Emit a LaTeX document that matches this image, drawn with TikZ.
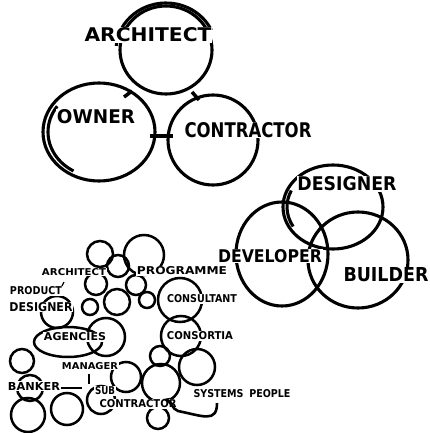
\documentclass[tikz,border=0pt]{standalone}
\usepackage{fontspec}
\setmainfont{DejaVu Sans}
\usepackage{graphicx}
\usetikzlibrary{arrows.meta}
\newcommand{\hlab}[3]{\resizebox{#1pt}{#2pt}{\bfseries #3}}
\tikzset{
  ring/.style={line width=3.1pt},
  bub/.style={line width=2.5pt},
  lab/.style={inner sep=0.8pt, fill=white},
  barmark/.style={line width=4.5pt},
}
\begin{document}
\begin{tikzpicture}[x=1pt,y=-1pt]
\useasboundingbox[fill=white] (0,0) rectangle (429,433);

% ---------- top: architect / owner / contractor ----------
\draw[ring] (166,50) ellipse [x radius=46, y radius=44];
\draw[ring] ([shift={(166,50)}]185:50 and 47) arc[start angle=185, end angle=335, x radius=50, y radius=47];
\draw[ring] (99,132) ellipse [x radius=56, y radius=49];
\draw[ring] ([shift={(99,132)}]120:51 and 45) arc[start angle=120, end angle=215, x radius=51, y radius=45];
\draw[ring] (213,140) ellipse [x radius=45, y radius=45];
\coordinate (barL) at (150,136);
\coordinate (barR) at (173,136);
\draw[barmark] (barL) -- (barR);
\coordinate (t1a) at (124,97);
\coordinate (t1b) at (132,91);
\draw[barmark,line width=3.5pt] (t1a) -- (t1b);
\coordinate (t2a) at (192,92);
\coordinate (t2b) at (199,100);
\draw[barmark,line width=3.5pt] (t2a) -- (t2b);

\node[lab] (tarch) at (148,35) {\hlab{127}{14}{ARCHITECT}};
\node[lab] (towner) at (96,117) {\hlab{78}{14}{OWNER}};
\node[lab] (tcontr) at (248,130) {\hlab{127}{15}{CONTRACTOR}};

% ---------- right: designer / developer / builder ----------
\draw[ring] (333,207) ellipse [x radius=50, y radius=42];
\draw[ring] ([shift={(333,207)}]150:46 and 39) arc[start angle=150, end angle=205, x radius=46, y radius=39];
\draw[ring] (282,254) ellipse [x radius=46, y radius=52];
\draw[ring] (358,260) ellipse [x radius=50, y radius=48];

\node[lab] (tdes) at (347,184) {\hlab{99}{14}{DESIGNER}};
\node[lab] (tdev) at (270,256) {\hlab{104}{13}{DEVELOPER}};
\node[lab] (tbld) at (386,275) {\hlab{85}{14}{BUILDER}};

% ---------- lower left: cluster ----------
\foreach \cx/\cy/\r in {
  100/254/13, 144/255/20, 118/266/11, 96/284/11, 136/285/10,
  117/302/13, 147/300/8, 180/300/22, 90/307/8, 57/312/16,
  106/337/19, 181/336/20, 160/356/10, 22/361/12,
  197/367/18, 161/383/19, 126/377/15, 101/400/14,
  67/409/16, 28/415/17, 30/388/13, 158/418/11}
  \draw[bub] (\cx,\cy) circle [radius=\r];
\draw[bub] (68,342) ellipse [x radius=34, y radius=15];

\coordinate (bkA) at (60,388);
\coordinate (bkB) at (82,388);
\draw[bub] (bkA) -- (bkB);
\coordinate (mgA) at (89,374);
\coordinate (mgB) at (89,384);
\draw[bub] (mgA) -- (mgB);

\node[lab] (carch) at (74,272) {\hlab{64}{7}{ARCHITECT}};
\node[lab] (cprod) at (36,291) {\hlab{52}{8}{PRODUCT}};
\coordinate (pkA) at (64,282);
\coordinate (pkB) at (62,286);
\draw[line width=1.2pt] (pkA) -- (pkB);
\node[lab] (cdes) at (41,307) {\hlab{63}{9}{DESIGNER}};
\node[lab] (cprog) at (182,271) {\hlab{90}{8}{PROGRAMME}};
\node[lab] (ccons) at (202,299) {\hlab{70}{8}{CONSULTANT}};
\node[lab] (cagen) at (75,337) {\hlab{62}{8}{AGENCIES}};
\node[lab] (ccsrt) at (200,336) {\hlab{66}{8}{CONSORTIA}};
\node[lab] (cman) at (90,366) {\hlab{56}{7}{MANAGER}};
\node[lab] (cbank) at (34,386) {\hlab{52}{8}{BANKER}};
\node[lab] (csub) at (105,391) {\hlab{20}{8}{SUB}};
\node[lab] (cctr) at (138,404) {\hlab{77}{8}{CONTRACTOR}};
\node[inner sep=0.8pt] (csys) at (242,394) {\hlab{97}{8}{SYSTEMS\hspace{0.6em}PEOPLE}};

\coordinate (arrEnd) at (163,399);
\draw[line width=2.6pt,-{Stealth[length=7pt,width=6pt]}]
  ([xshift=-25pt,yshift=-4pt]csys.south) .. controls +(0,20) and +(25,5) .. (178,411)
  .. controls +(-6,-2) and +(8,2) .. (arrEnd);
\end{tikzpicture}
\end{document}
